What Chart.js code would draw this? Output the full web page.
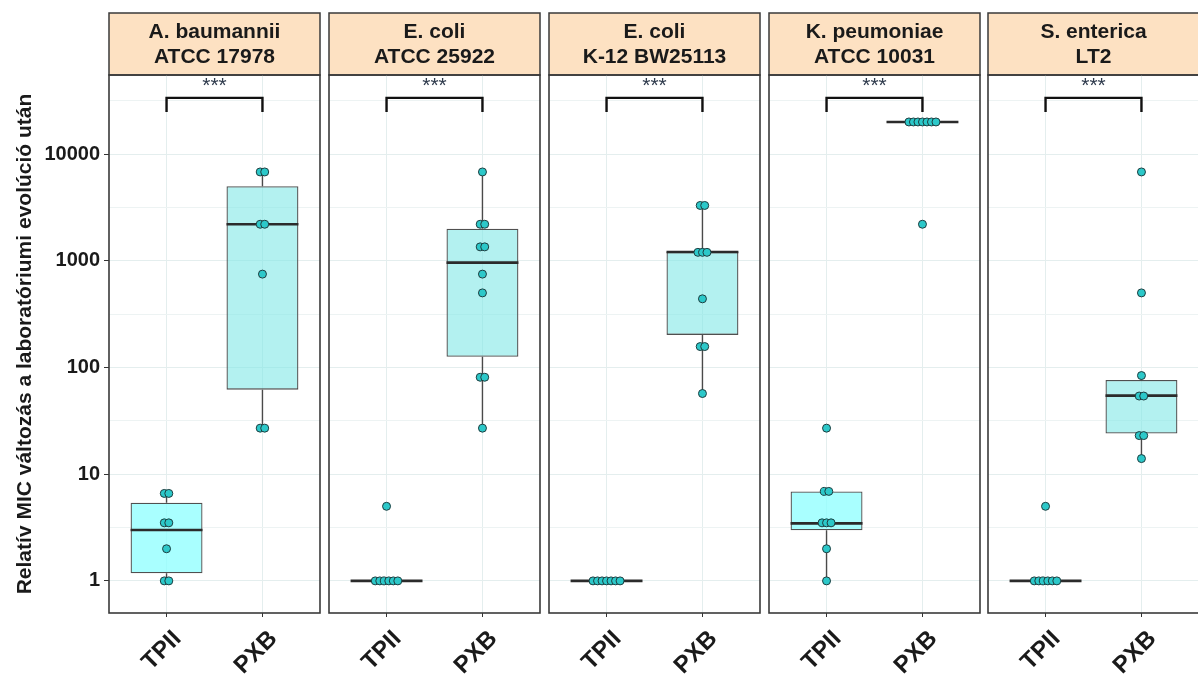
<!DOCTYPE html>
<html>
<head>
<meta charset="utf-8">
<script src="https://cdn.jsdelivr.net/npm/chart.js@4.4.1/dist/chart.umd.min.js"></script>
<style>
  html, body { margin: 0; padding: 0; background: #fff; overflow: hidden; }
  #figure { position: relative; width: 1198px; height: 677px; }
  .panel { position: absolute; top: 0; height: 677px; }
</style>
</head>
<body>
<div id="figure"></div>
<script>
// ---- values ----
const strains = [
  ['A. baumannii', 'ATCC 17978'],
  ['E. coli', 'ATCC 25922'],
  ['E. coli', 'K-12 BW25113'],
  ['K. peumoniae', 'ATCC 10031'],
  ['S. enterica', 'LT2']
];
const groups = ['TPII', 'PXB'];
const yTickValues = [1, 10, 100, 1000, 10000];
const yTickLabels = ['1', '10', '100', '1000', '10000'];
const yMinorValues = [3.162, 31.62, 316.2, 3162, 31623];
const yTitle = 'Relatív MIC változás a laboratóriumi evolúció után';

// individual fold changes per strain
const tpiiValues = [
  [1, 1, 2, 3.5, 3.5, 6.6, 6.6],
  [1, 1, 1, 1, 1, 1, 5],
  [1, 1, 1, 1, 1, 1, 1],
  [1, 2, 3.5, 3.5, 3.5, 6.9, 6.9, 27],
  [1, 1, 1, 1, 1, 1, 5]
];
const pxbValues = [
  [27, 27, 750, 2200, 2200, 6800, 6800],
  [27, 81, 81, 500, 750, 1350, 1350, 2200, 2200, 6800],
  [57, 157, 157, 440, 1200, 1200, 1200, 3300, 3300],
  [2200, 20000, 20000, 20000, 20000, 20000, 20000, 20000],
  [14, 23, 23, 54, 54, 84, 500, 6800]
];

// box statistics as drawn
const tpiiQ1 = [1.18, 1, 1, 2.98, 1];
const tpiiMedian = [3.0, 1, 1, 3.46, 1];
const tpiiQ3 = [5.4, 1, 1, 6.9, 1];
const tpiiLow = [1, 1, 1, 1, 1];
const tpiiHigh = [6.6, 1, 1, 7.2, 1];
const pxbQ1 = [62, 126, 202, 20000, 24];
const pxbMedian = [2200, 960, 1210, 20000, 54.5];
const pxbQ3 = [5000, 2000, 1210, 20000, 76.5];
const pxbLow = [27, 27, 57, 20000, 14];
const pxbHigh = [6800, 6800, 3300, 20000, 84];

const signifLabels = ['***', '***', '***', '***', '***'];
const bracketTop = 33600;
const bracketFoot = 24800;

// ---- layout / style ----
const panelLeft = [109, 329, 549, 769, 988];
const panelWidth = 211;
const stripTop = 13;
const plotBottom = 613;
const yMin = 0.5, yMax = 55100;
const boxWidth = 0.75;
const dotStep = 0.047;
const font = '"Liberation Sans", Arial, sans-serif';
const ink = '#1a1a1a';
const frame = '#3a3a3a';
const gridMajor = '#e4eeee';
const gridMinor = '#edf3f3';

function dots(values, center) {
  const counts = {}, seen = {};
  values.forEach(v => counts[v] = (counts[v] || 0) + 1);
  return values.map(v => {
    seen[v] = seen[v] === undefined ? 0 : seen[v] + 1;
    return { x: center + (seen[v] - (counts[v] - 1) / 2) * dotStep, y: v };
  });
}

const panelDecor = {
  id: 'panelDecor',
  beforeDraw(chart) {
    const { ctx, chartArea: a } = chart;
    ctx.save();
    ctx.fillStyle = '#fde1c2';
    ctx.fillRect(a.left, stripTop, a.right - a.left, a.top - stripTop);
    ctx.strokeStyle = frame;
    ctx.lineWidth = 1.5;
    ctx.strokeRect(a.left, stripTop, a.right - a.left, a.top - stripTop);
    ctx.restore();
  },
  afterDatasetsDraw(chart, args, opts) {
    const { ctx, chartArea: a, scales } = chart;
    ctx.save();
    ctx.strokeStyle = frame;
    ctx.lineWidth = 1.6;
    ctx.strokeRect(a.left, a.top, a.right - a.left, a.bottom - a.top);
    ctx.fillStyle = '#2e3a4c';
    ctx.font = '21px ' + font;
    ctx.textAlign = 'center';
    ctx.textBaseline = 'alphabetic';
    ctx.fillText(opts.label, scales.x.getPixelForValue(1.5), scales.y.getPixelForValue(bracketTop) - 6);
    ctx.restore();
  }
};

function makePanel(i) {
  const first = i === 0;
  const pad = 5;
  const left = first ? 0 : panelLeft[i] - pad;
  const width = panelLeft[i] + panelWidth + pad - left;
  const wrap = document.createElement('div');
  wrap.className = 'panel';
  wrap.style.left = left + 'px';
  wrap.style.width = width + 'px';
  const canvas = document.createElement('canvas');
  canvas.width = width;
  canvas.height = 677;
  wrap.appendChild(canvas);
  document.getElementById('figure').appendChild(wrap);

  const h = boxWidth / 2;
  return new Chart(canvas, {
    type: 'scatter',
    data: {
      datasets: [{
        label: 'points',
        data: [...dots(tpiiValues[i], 1), ...dots(pxbValues[i], 2)],
        pointRadius: 4,
        pointStyle: 'circle',
        backgroundColor: '#2cc8c9',
        borderColor: '#1d3d3f',
        borderWidth: 1,
        order: 0
      }, {
        label: 'bracket',
        showLine: true,
        data: [{ x: 1, y: bracketFoot }, { x: 1, y: bracketTop }, { x: 2, y: bracketTop }, { x: 2, y: bracketFoot }],
        borderColor: '#111',
        borderWidth: 2.4,
        pointRadius: 0,
        order: 1
      }, {
        label: 'medians',
        showLine: true,
        spanGaps: false,
        data: [
          { x: 1 - h, y: tpiiMedian[i] }, { x: 1 + h, y: tpiiMedian[i] }, { x: 1.5, y: null },
          { x: 2 - h, y: pxbMedian[i] }, { x: 2 + h, y: pxbMedian[i] }
        ],
        borderColor: '#2b2b2b',
        borderWidth: 2.6,
        pointRadius: 0,
        order: 2
      }, {
        type: 'bar',
        label: 'boxes',
        data: [{ x: 1, y: [tpiiQ1[i], tpiiQ3[i]] }, { x: 2, y: [pxbQ1[i], pxbQ3[i]] }],
        backgroundColor: ['rgba(140,255,255,0.75)', 'rgba(128,232,230,0.6)'],
        borderColor: '#505050',
        borderWidth: 1.3,
        borderSkipped: false,
        barPercentage: boxWidth,
        categoryPercentage: 1,
        order: 3
      }, {
        label: 'whiskers',
        showLine: true,
        spanGaps: false,
        data: [
          { x: 1, y: tpiiLow[i] }, { x: 1, y: tpiiQ1[i] }, { x: 1, y: null },
          { x: 1, y: tpiiQ3[i] }, { x: 1, y: tpiiHigh[i] }, { x: 1.5, y: null },
          { x: 2, y: pxbLow[i] }, { x: 2, y: pxbQ1[i] }, { x: 2, y: null },
          { x: 2, y: pxbQ3[i] }, { x: 2, y: pxbHigh[i] }
        ],
        borderColor: '#4a4a4a',
        borderWidth: 1.4,
        pointRadius: 0,
        order: 4
      }]
    },
    options: {
      responsive: false,
      animation: false,
      events: [],
      layout: { padding: { top: stripTop, left: first ? 0 : pad, right: pad, bottom: 0 } },
      plugins: {
        legend: { display: false },
        tooltip: { enabled: false },
        title: {
          display: true,
          text: strains[i],
          fullSize: false,
          color: ink,
          font: { family: font, size: 21, weight: 'bold', lineHeight: 1.2 },
          padding: { top: 6.6, bottom: 5 }
        },
        panelDecor: { label: signifLabels[i] }
      },
      scales: {
        x: {
          type: 'linear',
          min: 0.4,
          max: 2.6,
          offset: false,
          afterBuildTicks: s => { s.ticks = groups.map((g, k) => ({ value: k + 1 })); },
          afterFit: s => { s.height = 677 - plotBottom; },
          border: { display: false },
          grid: { offset: false, color: gridMajor, lineWidth: 1, tickColor: '#333', tickLength: 4 },
          ticks: {
            autoSkip: false,
            minRotation: 45,
            maxRotation: 45,
            padding: 8,
            labelOffset: 11,
            color: ink,
            font: { family: font, size: 24, weight: 'bold' },
            callback: v => groups[v - 1]
          }
        },
        y: {
          type: 'logarithmic',
          min: yMin,
          max: yMax,
          afterBuildTicks: s => {
            s.ticks = yTickValues.concat(yMinorValues).sort((a, b) => a - b).map(v => ({ value: v }));
          },
          afterFit: s => { s.width = first ? panelLeft[0] : 0; },
          border: { display: false },
          grid: {
            color: c => yTickValues.includes(c.tick && c.tick.value) ? gridMajor : gridMinor,
            lineWidth: 1,
            drawTicks: first,
            tickLength: 5,
            tickColor: c => yTickValues.includes(c.tick && c.tick.value) ? '#333' : 'rgba(0,0,0,0)'
          },
          ticks: {
            display: first,
            padding: 4,
            color: ink,
            font: { family: font, size: 20, weight: 'bold' },
            callback: v => {
              const k = yTickValues.indexOf(v);
              return k < 0 ? '' : yTickLabels[k];
            }
          },
          title: {
            display: first,
            text: yTitle,
            color: ink,
            font: { family: font, size: 21, weight: 'bold' },
            padding: { top: 13, bottom: 0 }
          }
        }
      }
    },
    plugins: [panelDecor]
  });
}

strains.forEach((s, i) => makePanel(i));
</script>
</body>
</html>
